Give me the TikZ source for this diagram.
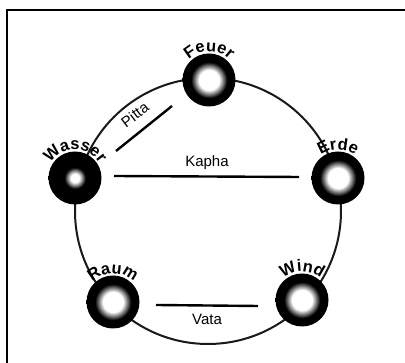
\documentclass[tikz,border=0pt]{standalone}
\usepackage{fontspec}
\setmainfont{Liberation Sans}
\usetikzlibrary{decorations.text}
\newcommand\elfont{\fontsize{16.5}{16.5}\selectfont\bfseries}
\newcommand\doshafont{\fontsize{15}{15}\selectfont}
\pgfdeclareradialshading{bigcore}{\pgfpoint{0bp}{0bp}}{color(0bp)=(white); color(9.5bp)=(white); color(12.5bp)=(black!40); color(17bp)=(black); color(50bp)=(black)}
\pgfdeclareradialshading{smallcore}{\pgfpoint{0bp}{0bp}}{color(0bp)=(white); color(4bp)=(white); color(6.5bp)=(black!40); color(10bp)=(black); color(50bp)=(black)}
\tikzset{
  ring/.style={line width=2pt, black!90},
  doshaline/.style={line width=2.4pt, black},
  ball/.style={circle, minimum size=53pt, inner sep=0pt},
  doshalabel/.style={font=\doshafont, inner sep=0pt},
  frame/.style={line width=2.5pt, black}
}
\newcommand\ballcore[2]{\shade[shading=#2] (#1) circle (26.5);}
\newcommand\ballname[2]{\path[decorate, decoration={text along path, text={|\elfont|#2}, text align=center}]
  ([shift={(172:28.5)}]#1.center) arc (172:8:28.5);}
\begin{document}
\begin{tikzpicture}[x=1pt,y=1pt]
\useasboundingbox (0,0) rectangle (405,363);
\fill[white] (0,0) rectangle (405,363);
\draw[frame] (7,0) -- (7,353) -- (405,353);
\coordinate (center) at (208,152);
\draw[ring] (center) circle (133);
% balls
\node[ball] (feuer) at (209,283) {};
\node[ball] (wasser) at (75,185) {};
\node[ball] (erde) at (338,185) {};
\node[ball] (raum) at (113,61) {};
\node[ball] (wind) at (302,63) {};
\ballcore{feuer}{bigcore}
\ballcore{wasser}{smallcore}
\ballcore{erde}{bigcore}
\ballcore{raum}{bigcore}
\ballcore{wind}{bigcore}
\ballname{feuer}{Feuer}
\ballname{wasser}{Wasser}
\ballname{erde}{Erde}
\ballname{raum}{Raum}
\ballname{wind}{Wind}
% dosha lines
\coordinate (p1) at (116,212);
\coordinate (p2) at (172,257);
\coordinate (k1) at (114,187);
\coordinate (k2) at (299,186);
\coordinate (v1) at (156,58);
\coordinate (v2) at (258,57);
\draw[doshaline] (p1) -- (p2);
\draw[doshaline] (k1) -- (k2);
\draw[doshaline] (v1) -- (v2);
\node[doshalabel, anchor=base, rotate=37] (pitta) at (138,244) {Pitta};
\node[doshalabel, anchor=base] (kapha) at (207,196) {Kapha};
\node[doshalabel, anchor=base] (vata) at (207,38) {Vata};
\end{tikzpicture}
\end{document}
